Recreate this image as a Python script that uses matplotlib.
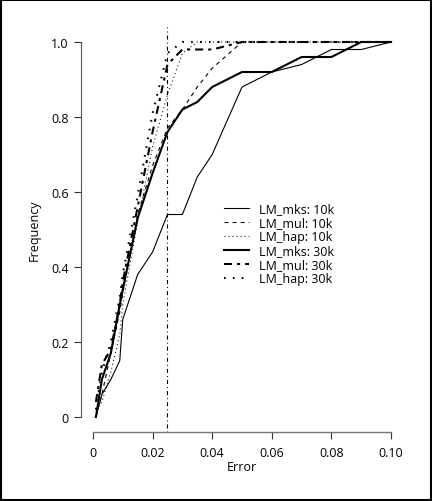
import matplotlib
matplotlib.use('Agg')

import numpy as np
import matplotlib.pyplot as plt
from matplotlib.patches import Rectangle

# error thresholds (x) and cumulative frequency for each method
error = [0.001, 0.003, 0.006, 0.009, 0.01, 0.015, 0.02, 0.025, 0.03,
         0.035, 0.04, 0.05, 0.06, 0.07, 0.08, 0.09, 0.10]

mks_10k = [0.00, 0.06, 0.10, 0.15, 0.26, 0.38, 0.44, 0.54, 0.54,
           0.64, 0.70, 0.88, 0.92, 0.94, 0.98, 0.98, 1.00]
mul_10k = [0.00, 0.06, 0.17, 0.28, 0.33, 0.54, 0.67, 0.77, 0.82,
           0.88, 0.93, 1.00, 1.00, 1.00, 1.00, 1.00, 1.00]
hap_10k = [0.02, 0.04, 0.12, 0.22, 0.30, 0.52, 0.72, 0.86, 0.97,
           1.00, 1.00, 1.00, 1.00, 1.00, 1.00, 1.00, 1.00]
mks_30k = [0.00, 0.10, 0.17, 0.30, 0.34, 0.53, 0.65, 0.76, 0.82,
           0.84, 0.88, 0.92, 0.92, 0.96, 0.96, 1.00, 1.00]
mul_30k = [0.04, 0.14, 0.18, 0.30, 0.36, 0.56, 0.76, 0.94, 0.98,
           0.98, 0.98, 1.00, 1.00, 1.00, 1.00, 1.00, 1.00]
hap_30k = [0.02, 0.12, 0.20, 0.32, 0.38, 0.59, 0.81, 0.97, 1.00,
           1.00, 1.00, 1.00, 1.00, 1.00, 1.00, 1.00, 1.00]

cutoff = 0.025

x_ticks = [0, 0.02, 0.04, 0.06, 0.08, 0.10]
x_labels = ['0', '0.02', '0.04', '0.06', '0.08', '0.10']
y_ticks = [0, 0.2, 0.4, 0.6, 0.8, 1.0]
y_labels = ['0', '0.2', '0.4', '0.6', '0.8', '1.0']

plt.rcParams['font.family'] = ['Open Sans', 'DejaVu Sans']
plt.rcParams['lines.scale_dashes'] = False

fig = plt.figure(figsize=(4.32, 5.02), dpi=100)
ax = fig.add_axes([81 / 432, 1 - 433 / 502, (403 - 81) / 432, (433 - 28) / 502])

# pattern lengths in points
series = [
    (mks_10k, 'LM_mks: 10k', 0.8, '-'),
    (mul_10k, 'LM_mul: 10k', 0.8, (0, (2.9, 2.9))),
    (hap_10k, 'LM_hap: 10k', 0.8, (0, (0.7, 2.2))),
    (mks_30k, 'LM_mks: 30k', 1.5, '-'),
    (mul_30k, 'LM_mul: 30k', 1.5, (0, (5.8, 3.6, 2.2, 3.6))),
    (hap_30k, 'LM_hap: 30k', 1.5, (0, (1.2, 5.2))),
]
for vals, label, lw, ls in series:
    ax.plot(error, vals, color='black', linewidth=lw, linestyle=ls, label=label)

ax.axvline(cutoff, color='black', linewidth=0.8,
           linestyle=(0, (0.7, 2.2, 2.9, 2.2)))

ax.set_xlim(-0.004, 0.104)
ax.set_ylim(-0.04, 1.04)

for side in ['top', 'right']:
    ax.spines[side].set_visible(False)
ax.spines['left'].set_bounds(0, 1)
ax.spines['bottom'].set_bounds(0, 0.1)
ax.spines['left'].set_color('#555555')
ax.spines['bottom'].set_color('#777777')
ax.spines['left'].set_linewidth(0.8)
ax.spines['bottom'].set_linewidth(1.0)

ax.set_xticks(x_ticks)
ax.set_xticklabels(x_labels)
ax.set_yticks(y_ticks)
ax.set_yticklabels(y_labels)
ax.tick_params(direction='out', length=5, width=0.8, pad=4, labelsize=9,
               color='#333333')
ax.tick_params(axis='x', pad=5)

ax.set_xlabel('Error', fontsize=9, labelpad=1)
ax.set_ylabel('Frequency', fontsize=9, labelpad=7)

ax.legend(loc='upper left', bbox_to_anchor=(0.43, 0.58), frameon=False,
          fontsize=9, handlelength=2.0, handletextpad=0.8,
          labelspacing=0.08, borderaxespad=0)

fig.patches.append(Rectangle((0.002, 0.002), 0.996, 0.996,
                             transform=fig.transFigure, fill=False,
                             edgecolor='black', linewidth=1.5))

fig.savefig('out.png', dpi=100)
